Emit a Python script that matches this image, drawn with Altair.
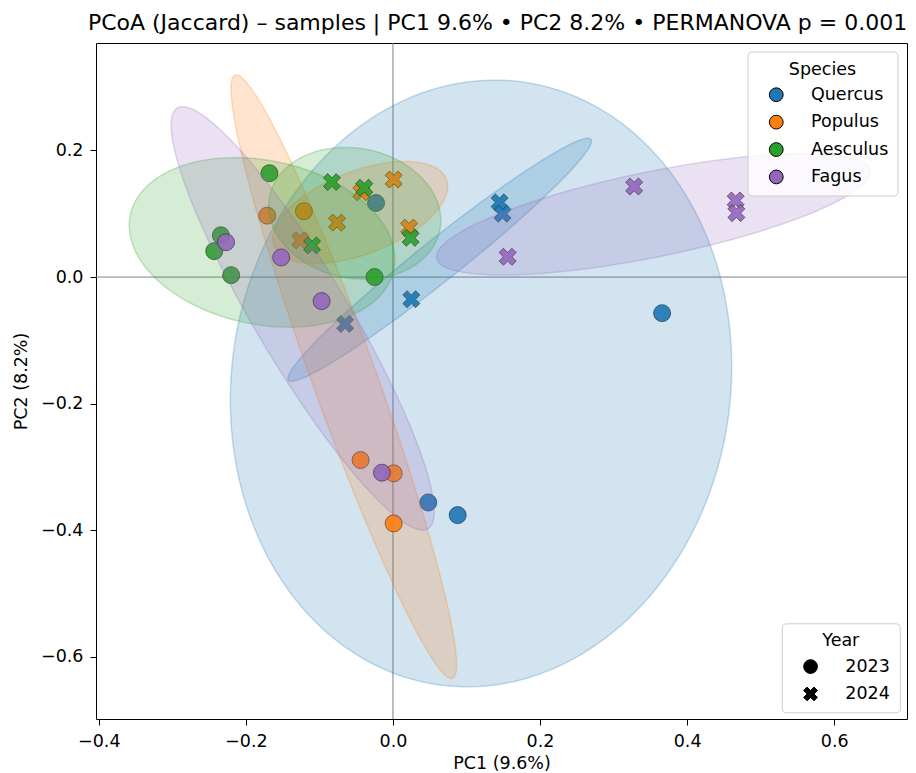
import numpy as np
import pandas as pd
import altair as alt

# ---- data ----
species_order = ["Quercus", "Populus", "Aesculus", "Fagus"]
species_colors = ["#1f77b4", "#ff7f0e", "#2ca02c", "#9467bd"]
year_order = ["2023", "2024"]

sample_species = (["Quercus"] * 8 + ["Populus"] * 10 + ["Aesculus"] * 9 + ["Fagus"] * 8)
sample_year = (["2023"] * 4 + ["2024"] * 4 +
               ["2023"] * 5 + ["2024"] * 5 +
               ["2023"] * 5 + ["2024"] * 4 +
               ["2023"] * 4 + ["2024"] * 4)
pc1 = [-0.023, 0.366, 0.048, 0.088,
       0.025, -0.065, 0.145, 0.149,
       -0.171, -0.121, -0.044, 0.001, 0.001,
       0.001, -0.043, -0.076, -0.126, 0.022,
       -0.168, -0.234, -0.243, -0.220, -0.025,
       -0.083, -0.039, -0.110, 0.024,
       -0.227, -0.152, -0.097, -0.015,
       0.156, 0.328, 0.466, 0.467]
pc2 = [0.117, -0.057, -0.356, -0.376,
       -0.035, -0.074, 0.118, 0.100,
       0.097, 0.104, -0.289, -0.310, -0.389,
       0.154, 0.134, 0.086, 0.058, 0.078,
       0.164, 0.066, 0.041, 0.003, 0.000,
       0.150, 0.141, 0.050, 0.062,
       0.055, 0.031, -0.038, -0.309,
       0.032, 0.143, 0.121, 0.101]

df = pd.DataFrame({"Species": sample_species, "Year": sample_year, "PC1": pc1, "PC2": pc2})

# ---- 2-sd covariance ellipses per species x year (derived from the points) ----
n_std = 2.0
t = np.linspace(0, 2 * np.pi, 181)
rows = []
for sp in species_order:
    for yr in year_order:
        P = df[(df.Species == sp) & (df.Year == yr)][["PC1", "PC2"]].to_numpy()
        mu = P.mean(axis=0)
        cov = np.cov(P.T)
        vals, vecs = np.linalg.eigh(cov)
        circ = np.vstack([np.cos(t), np.sin(t)])
        pts = mu + n_std * (vecs @ np.diag(np.sqrt(np.maximum(vals, 0))) @ circ).T
        for i, (x, y) in enumerate(pts):
            rows.append({"Species": sp, "Year": yr, "i": i, "PC1": x, "PC2": y})
ell = pd.DataFrame(rows)

FONT = "DejaVu Sans"
X_PATH = "M-0.5,-1L0,-0.5L0.5,-1L1,-0.5L0.5,0L1,0.5L0.5,1L0,0.5L-0.5,1L-1,0.5L-0.5,0L-1,-0.5Z"

xs = alt.Scale(domain=[-0.4038, 0.6990], nice=False, zero=False)
ys = alt.Scale(domain=[-0.698, 0.3697], nice=False, zero=False)
xenc = alt.X("PC1:Q", scale=xs,
             axis=alt.Axis(values=[-0.4, -0.2, 0.0, 0.2, 0.4, 0.6], format=".1f",
                           title="PC1 (9.6%)", titlePadding=5))
yenc = alt.Y("PC2:Q", scale=ys,
             axis=alt.Axis(values=[-0.6, -0.4, -0.2, 0.0, 0.2], format=".1f",
                           title="PC2 (8.2%)", titlePadding=10))

color_scale = alt.Scale(domain=species_order, range=species_colors)
shape_scale = alt.Scale(domain=year_order, range=["circle", X_PATH])

legend_common = dict(
    orient="none", padding=9, symbolOffset=11, labelOffset=26, rowPadding=8.4,
    titlePadding=8, titleAnchor="middle", titleFontSize=17.5, titleFontWeight="normal",
    labelFontSize=17.5, labelFont=FONT, titleFont=FONT, strokeColor="#cccccc",
    fillColor="rgba(255,255,255,0.8)", cornerRadius=4, symbolSize=190,
    symbolStrokeColor="black", symbolStrokeWidth=1, symbolOpacity=1,
    labelColor="black", titleColor="black",
)
species_legend = alt.Legend(title="Species", legendX=651.5, legendY=8.5,
                            symbolType="circle", **legend_common)
year_legend = alt.Legend(title="Year", legendX=685.8, legendY=580.3,
                         symbolFillColor="black", **legend_common)

zero = pd.DataFrame({"PC1": [0.0], "PC2": [0.0]})
vrule = alt.Chart(zero).mark_rule(color="#808080", strokeWidth=1).encode(x=xenc)
hrule = alt.Chart(zero).mark_rule(color="#808080", strokeWidth=1).encode(y=yenc)

layers = [vrule, hrule]
for sp, col in zip(species_order, species_colors):
    pts = alt.Chart(df).transform_filter(alt.datum.Species == sp).mark_point(
        filled=True, size=290, opacity=0.9, stroke="#1a1a1a", strokeWidth=0.7
    ).encode(
        x=xenc, y=yenc,
        color=alt.Color("Species:N", scale=color_scale, legend=species_legend),
        shape=alt.Shape("Year:N", scale=shape_scale, legend=year_legend),
    )
    layers.append(pts)
    for yr in year_order:
        e = alt.Chart(ell).transform_filter(
            (alt.datum.Species == sp) & (alt.datum.Year == yr)
        ).mark_line(
            fill=col, stroke=col, fillOpacity=0.2, strokeOpacity=0.25, strokeWidth=1.5
        ).encode(x=xenc, y=yenc, order=alt.Order("i:Q"))
        layers.append(e)

chart = alt.layer(*layers).properties(
    width=811, height=676,
    autosize=alt.AutoSizeParams(type="none"),
    padding={"left": 88, "top": 35, "right": 1, "bottom": 54},
    title=alt.Title("PCoA (Jaccard) \u2013 samples | PC1 9.6% \u2022 PC2 8.2% \u2022 PERMANOVA p = 0.001",
                    font=FONT, fontSize=22, fontWeight="normal", color="black",
                    anchor="middle", baseline="bottom", frame="group", offset=7,
                    dy=21, dx=-4),
).configure(
    background="white"
).configure_view(
    stroke="black", strokeWidth=1
).configure_axis(
    grid=False, domain=False, tickColor="black", tickSize=6, labelPadding=7,
    labelFont=FONT, titleFont=FONT, labelFontSize=17.5, titleFontSize=17.5,
    labelColor="black", titleColor="black", titleFontWeight="normal",
)

chart.save("out.html", embed_options={"renderer": "svg", "actions": False})
